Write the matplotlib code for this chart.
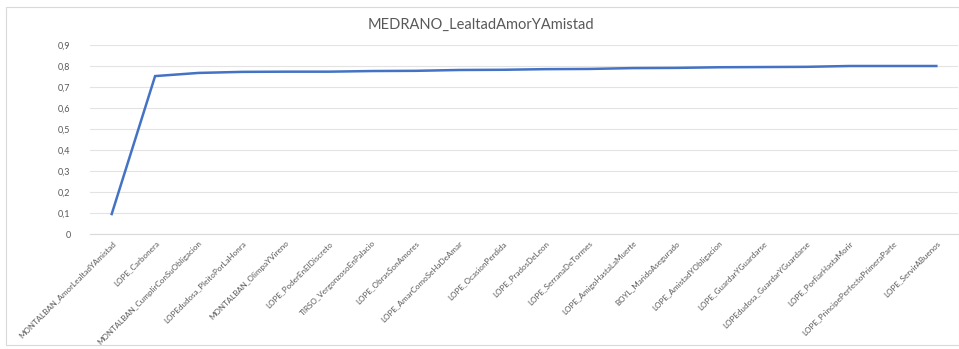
import matplotlib
matplotlib.use("Agg")
import matplotlib.pyplot as plt
from matplotlib.patches import Rectangle

categories = [
    "MONTALBAN_AmorLealtadYAmistad",
    "LOPE_Carbonera",
    "MONTALBAN_CumplirConSuObligacion",
    "LOPEdudosa_PleitoPorLaHonra",
    "MONTALBAN_OlimpaYVireno",
    "LOPE_PoderEnElDiscreto",
    "TIRSO_VergonzosoEnPalacio",
    "LOPE_ObrasSonAmores",
    "LOPE_AmarComoSeHaDeAmar",
    "LOPE_OcasionPerdida",
    "LOPE_PradosDeLeon",
    "LOPE_SerranaDeTormes",
    "LOPE_AmigoHastaLaMuerte",
    "BOYL_MaridoAsegurado",
    "LOPE_AmistadYObligacion",
    "LOPE_GuardarYGuardarse",
    "LOPEdudosa_GuardarYGuardarse",
    "LOPE_PorfiarHastaMorir",
    "LOPE_PrincipePerfectoPrimeraParte",
    "LOPE_ServirABuenos",
]
values = [0.095, 0.752, 0.767, 0.772, 0.773, 0.773, 0.776, 0.777, 0.781, 0.782,
          0.785, 0.786, 0.790, 0.791, 0.794, 0.795, 0.796, 0.800, 0.800, 0.800]
yticks = [0, 0.1, 0.2, 0.3, 0.4, 0.5, 0.6, 0.7, 0.8, 0.9]
ytick_labels = ["0", "0,1", "0,2", "0,3", "0,4", "0,5", "0,6", "0,7", "0,8", "0,9"]
title = "MEDRANO_LealtadAmorYAmistad"

plt.rcParams['font.family'] = ['Lato', 'DejaVu Sans']
W, H = 959, 349
fig = plt.figure(figsize=(W / 100, H / 100), dpi=100)
fig.patch.set_facecolor("white")
fig.patches.append(Rectangle((6 / W, 4 / H), (W - 6) / W, (H - 11) / H,
                             transform=fig.transFigure, fill=False,
                             edgecolor="#d9d9d9", linewidth=0.8))

left, right = 90 / W, 958 / W
bottom, top = (H - 234) / H, (H - 45) / H
ax = fig.add_axes([left, bottom, right - left, top - bottom])
x = list(range(len(categories)))
ax.plot(x, values, color="#4472c4", linewidth=1.8, solid_joinstyle="miter")
ax.set_xlim(-0.5, len(categories) - 0.5)
ax.set_ylim(0, 0.9)
ax.set_yticks(yticks)
ax.set_yticklabels(ytick_labels, fontsize=6.5, color="#595959")
ax.set_xticks(x)
ax.set_xticklabels(categories, rotation=45, ha="right", rotation_mode="anchor",
                   fontsize=5.8, color="#595959")
ax.tick_params(axis="x", length=0, pad=4)
ax.tick_params(axis="y", length=0, pad=14)
ax.grid(axis="y", color="#e3e3e3", linewidth=0.8)
ax.set_axisbelow(True)
for s in ax.spines.values():
    s.set_visible(False)
ax.spines["bottom"].set_visible(True)
ax.spines["bottom"].set_color("#d9d9d9")
ax.spines["bottom"].set_linewidth(0.8)

fig.text(481 / W, 1 - 25 / H, title, ha="center", va="center",
         fontsize=10.5, color="#595959")

fig.savefig("out.png", dpi=100)
